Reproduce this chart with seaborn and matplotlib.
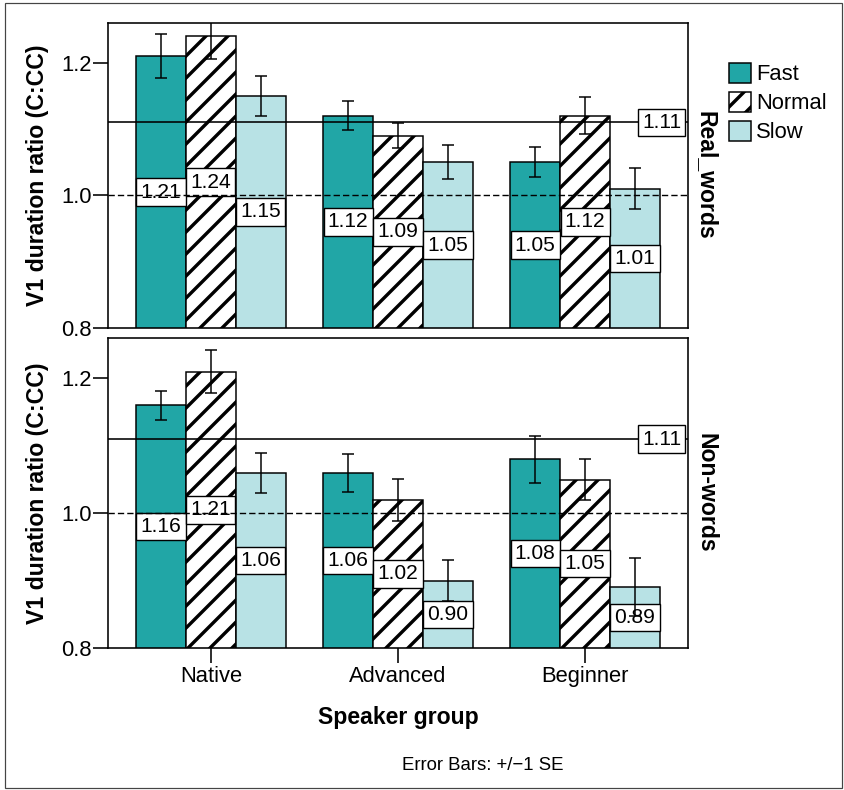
import matplotlib
matplotlib.use("Agg")
import matplotlib.pyplot as plt
import matplotlib.transforms as mtransforms
from matplotlib.patches import Patch, Rectangle
import seaborn as sns
import pandas as pd

# ---------------- data ----------------
groups = ["Native", "Advanced", "Beginner"]
speeds = ["Fast", "Normal", "Slow"]

real_fast = [1.21, 1.12, 1.05]
real_normal = [1.24, 1.09, 1.12]
real_slow = [1.15, 1.05, 1.01]
real_fast_se = [0.033, 0.022, 0.023]
real_normal_se = [0.035, 0.019, 0.028]
real_slow_se = [0.030, 0.026, 0.031]

non_fast = [1.16, 1.06, 1.08]
non_normal = [1.21, 1.02, 1.05]
non_slow = [1.06, 0.90, 0.89]
non_fast_se = [0.021, 0.028, 0.035]
non_normal_se = [0.032, 0.031, 0.030]
non_slow_se = [0.030, 0.030, 0.043]

ref_line = 1.11
base_line = 1.0
y_ticks = [0.8, 1.0, 1.2]
y_tick_labels = ["0.8", "1.0", "1.2"]
panel_titles = ["Real_words", "Non-words"]
y_title = "V1 duration ratio (C:CC)"
x_title = "Speaker group"
caption = "Error Bars: +/\u22121 SE"

# ---------------- style ----------------
DPI = 132
W, H = 844, 790


def pt(px):
    return px * 72.0 / DPI


sns.set_style("ticks")
plt.rcParams["font.family"] = ["Liberation Sans", "DejaVu Sans"]
plt.rcParams["hatch.linewidth"] = pt(3.4)
plt.rcParams["hatch.color"] = "black"
for key in ["text.color", "axes.labelcolor", "xtick.color", "ytick.color",
            "axes.edgecolor"]:
    plt.rcParams[key] = "black"

c_fast = "#21a6a6"
c_normal = "white"
c_slow = "#b8e2e5"
palette = {"Fast": c_fast, "Normal": c_normal, "Slow": c_slow}

fig = plt.figure(figsize=(W / DPI, H / DPI), dpi=DPI)

# outer frame
fig.patches.append(Rectangle((5 / W, 1 - 788 / H), (842 - 5) / W, (788 - 3) / H,
                             transform=fig.transFigure, fill=False,
                             edgecolor="#444444", linewidth=pt(1.2)))

ax_top = fig.add_axes([108 / W, 1 - 328 / H, 580 / W, 305 / H])
ax_bot = fig.add_axes([108 / W, 1 - 648 / H, 580 / W, 310 / H])

panels = [
    (ax_top, [real_fast, real_normal, real_slow],
     [real_fast_se, real_normal_se, real_slow_se], panel_titles[0]),
    (ax_bot, [non_fast, non_normal, non_slow],
     [non_fast_se, non_normal_se, non_slow_se], panel_titles[1]),
]

lw_axis = pt(1.6)
label_box = dict(boxstyle="square,pad=0.2", facecolor="white",
                 edgecolor="black", linewidth=pt(1.4))

for ax, means, ses, title in panels:
    rows = []
    for s, vals in zip(speeds, means):
        for g, v in zip(groups, vals):
            rows.append({"group": g, "speed": s, "value": v})
    df = pd.DataFrame(rows)
    sns.barplot(data=df, x="group", y="value", hue="speed", order=groups,
                hue_order=speeds, palette=palette, errorbar=None, width=0.8,
                edgecolor="black", linewidth=pt(1.5), ax=ax, legend=False,
                saturation=1)
    bar_conts = list(ax.containers)
    for i, cont in enumerate(bar_conts):
        bars = list(cont.patches)
        for bar in bars:
            bar.set_zorder(2)
            if speeds[i] == "Normal":
                bar.set_hatch("//")
        xs = [b.get_x() + b.get_width() / 2 for b in bars]
        hs = [b.get_height() for b in bars]
        # value labels at mid-height of the visible bar
        for x, h in zip(xs, hs):
            ax.text(x, (h + 0.8) / 2, f"{h:.2f}", ha="center", va="center",
                    fontsize=pt(21), zorder=3, color="black", bbox=label_box)
        ax.errorbar(xs, hs, yerr=ses[i], fmt="none", ecolor="black",
                    elinewidth=pt(1.5), capsize=pt(6), capthick=pt(1.5),
                    zorder=5)

    ax.axhline(ref_line, color="black", linewidth=pt(1.6), zorder=4)
    ax.axhline(base_line, color="black", linewidth=pt(1.4),
               linestyle=(0, (4.5, 2.2)), zorder=4)
    trans = mtransforms.blended_transform_factory(ax.transAxes, ax.transData)
    ax.text(0.988, ref_line, f"{ref_line:.2f}", transform=trans, ha="right",
            va="center", fontsize=pt(21), zorder=6, color="black",
            bbox=label_box)

    ax.set_xlim(-0.55, 2.55)
    ax.set_ylim(0.8, 1.26)
    ax.set_yticks(y_ticks)
    ax.set_yticklabels(y_tick_labels)
    ax.tick_params(axis="y", length=pt(15), width=lw_axis, pad=pt(1),
                   labelsize=pt(22), color="black", labelcolor="black")
    for sp in ax.spines.values():
        sp.set_visible(True)
        sp.set_linewidth(lw_axis)
        sp.set_color("black")
    ax.set_ylabel(y_title, fontsize=pt(23), fontweight="bold", color="black")
    ax.yaxis.set_label_coords((49 - 108) / 580, 0.5)
    ax.text((706 - 108) / 580, 0.5, title, transform=ax.transAxes,
            rotation=270, ha="center", va="center", fontsize=pt(23),
            fontweight="bold", color="black")

ax_top.set_xlabel("")
ax_top.tick_params(axis="x", length=0, labelbottom=False)
ax_bot.tick_params(axis="x", length=pt(15), width=lw_axis, pad=pt(3),
                   labelsize=pt(22), color="black", labelcolor="black")
ax_bot.set_xticks(range(len(groups)))
ax_bot.set_xticklabels(groups)
ax_bot.set_xlabel(x_title, fontsize=pt(23), fontweight="bold", color="black")
ax_bot.xaxis.set_label_coords(0.5, (648 - 706) / 310)

handles = [Patch(facecolor=palette[s], edgecolor="black", linewidth=pt(1.5),
                 hatch="//" if s == "Normal" else None, label=s) for s in speeds]
fig.legend(handles=handles, loc="upper left",
           bbox_to_anchor=(729 / W, 1 - 63 / H), frameon=False, borderpad=0,
           borderaxespad=0, handlelength=1.0, handleheight=1.0,
           handletextpad=0.23, labelspacing=0.3, fontsize=pt(22))

fig.text(483 / W, 1 - 766 / H, caption, ha="center", va="center",
         fontsize=pt(18.7), color="black")

fig.savefig("out.png", dpi=DPI)
